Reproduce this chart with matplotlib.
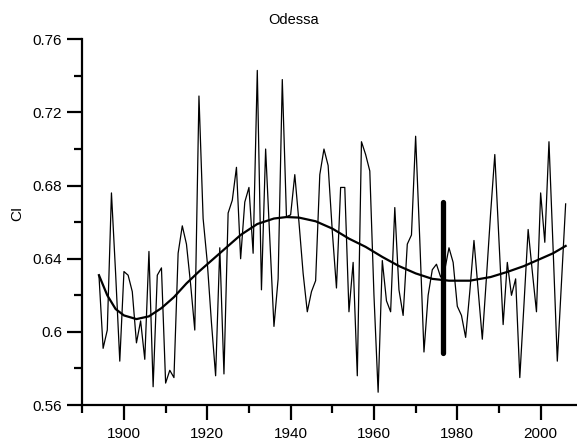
import numpy as np
import matplotlib
matplotlib.use("Agg")
import matplotlib.pyplot as plt
from matplotlib.ticker import MultipleLocator

plt.rcParams["font.family"] = ["Liberation Sans", "DejaVu Sans"]

# annual CI values, Odessa
years = np.arange(1894, 2007)
ci = [
    0.631, 0.591, 0.601, 0.676, 0.632, 0.584, 0.633, 0.631, 0.622, 0.594,  # 1894-1903
    0.606, 0.585, 0.644, 0.570, 0.631, 0.635, 0.572, 0.579, 0.575, 0.643,  # 1904-1913
    0.658, 0.648, 0.626, 0.601, 0.729, 0.662, 0.638, 0.605, 0.576, 0.646,  # 1914-1923
    0.577, 0.665, 0.672, 0.690, 0.640, 0.671, 0.679, 0.643, 0.743, 0.623,  # 1924-1933
    0.700, 0.651, 0.603, 0.629, 0.738, 0.663, 0.664, 0.686, 0.660, 0.632,  # 1934-1943
    0.611, 0.622, 0.628, 0.686, 0.700, 0.691, 0.655, 0.624, 0.679, 0.679,  # 1944-1953
    0.611, 0.638, 0.576, 0.704, 0.697, 0.688, 0.620, 0.567, 0.639, 0.617,  # 1954-1963
    0.611, 0.668, 0.623, 0.609, 0.648, 0.653, 0.707, 0.650, 0.589, 0.620,  # 1964-1973
    0.634, 0.637, 0.630, 0.634, 0.646, 0.638, 0.614, 0.609, 0.597, 0.622,  # 1974-1983
    0.650, 0.623, 0.596, 0.630, 0.665, 0.697, 0.650, 0.604, 0.638, 0.620,  # 1984-1993
    0.629, 0.575, 0.615, 0.656, 0.633, 0.611, 0.676, 0.649, 0.704, 0.645,  # 1994-2003
    0.584, 0.627, 0.670,                                                   # 2004-2006
]

# smoothed trend
trend_years = [1894, 1896, 1898, 1900, 1903, 1906, 1909, 1912, 1915, 1918,
               1921, 1924, 1928, 1932, 1936, 1939, 1942, 1946, 1950, 1954,
               1958, 1962, 1966, 1970, 1974, 1978, 1983, 1988, 1992, 1996,
               2000, 2003, 2006]
trend = [0.631, 0.620, 0.6125, 0.609, 0.607, 0.6085, 0.613, 0.619, 0.6265, 0.633,
         0.639, 0.645, 0.653, 0.659, 0.662, 0.6628, 0.6625, 0.6605, 0.6565, 0.651,
         0.6465, 0.641, 0.636, 0.632, 0.629, 0.628, 0.628, 0.630, 0.6328, 0.636,
         0.640, 0.643, 0.647]

# vertical marker bar
bar_year = 1976.5
bar_low, bar_high = 0.5886, 0.671

fig = plt.figure(figsize=(5.77, 4.40), dpi=100)
ax = fig.add_axes([0.1426, 0.0795, 0.8666, 0.8311])

ax.plot(years, ci, color="black", lw=0.9)
ax.plot(trend_years, trend, color="black", lw=1.6)
ax.plot([bar_year, bar_year], [bar_low, bar_high], color="black", lw=3.8,
        solid_capstyle="round")

ax.set_xlim(1890, 2010)
ax.set_ylim(0.56, 0.76)
ax.xaxis.set_major_locator(MultipleLocator(20))
ax.xaxis.set_minor_locator(MultipleLocator(10))
ax.yaxis.set_minor_locator(MultipleLocator(0.02))
ax.set_yticks([0.56, 0.60, 0.64, 0.68, 0.72, 0.76])
ax.set_yticklabels(["0.56", "0.6", "0.64", "0.68", "0.72", "0.76"])

for side in ("top", "right"):
    ax.spines[side].set_visible(False)
for side in ("left", "bottom"):
    ax.spines[side].set_linewidth(1.6)
ax.tick_params(which="major", direction="out", length=11, width=1.6, labelsize=11)
ax.tick_params(which="minor", direction="out", length=5.5, width=1.6)
ax.tick_params(axis="y", pad=3.5)
ax.tick_params(axis="x", pad=5)

fig.text(293.5 / 577, 1 - 20.5 / 440, "Odessa", ha="center", va="center", fontsize=10.5)
fig.text(17 / 577, 1 - 213 / 440, "CI", ha="center", va="center", rotation=90, fontsize=11)

fig.savefig("out.png", dpi=100)
